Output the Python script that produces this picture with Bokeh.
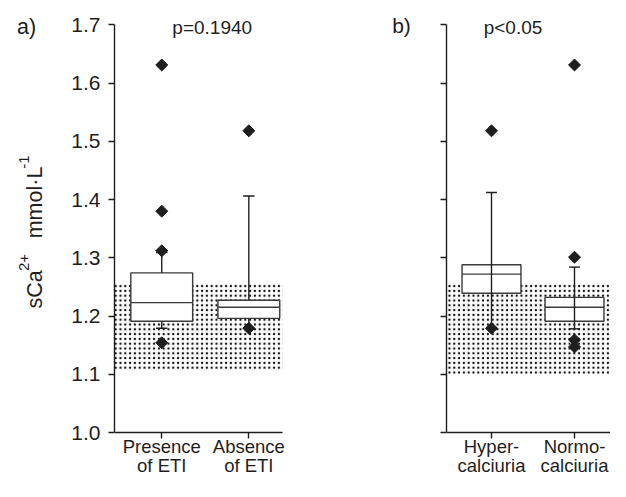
from bokeh.plotting import figure
from bokeh.layouts import row
from bokeh.models import (Range1d, FixedTicker, Label, CustomJSTickFormatter,
                          PrintfTickFormatter)
from bokeh.core.properties import value
from bokeh.embed import file_html
from bokeh.resources import INLINE
import numpy as np

FONT = "Liberation Sans"
INK = "#1e1e1e"

# ---------------- data ----------------
y_ticks = [1.0, 1.1, 1.2, 1.3, 1.4, 1.5, 1.6, 1.7]

# panel a)
a_categories = ["Presence\nof ETI", "Absence\nof ETI"]
a_q1 = [1.191, 1.196]
a_median = [1.223, 1.215]
a_q3 = [1.274, 1.227]
a_whisk_lo = [1.179, 1.179]
a_whisk_hi = [1.309, 1.406]
a_out_group = [0, 0, 0, 0, 1, 1]
a_out_value = [1.631, 1.380, 1.312, 1.154, 1.518, 1.179]
a_normal = [1.107, 1.256]
a_p_text = "p=0.1940"

# panel b)
b_categories = ["Hyper-\ncalciuria", "Normo-\ncalciuria"]
b_q1 = [1.239, 1.191]
b_median = [1.272, 1.215]
b_q3 = [1.288, 1.232]
b_whisk_lo = [1.179, 1.178]
b_whisk_hi = [1.412, 1.284]
b_out_group = [0, 0, 1, 1, 1, 1]
b_out_value = [1.518, 1.179, 1.631, 1.301, 1.159, 1.147]
b_normal = [1.100, 1.256]
b_p_text = "p<0.05"

# y-axis title pieces: (text, is_superscript)
y_label_parts = [("sCa", False), ("2+", True), ("mmol\u00b7L", False), ("-1", True)]

# ---------------- layout ----------------
BOX_W = 0.71
CAP_W = 0.13
H = 481
PX_TOP = 24.3          # pixel row of 1.7
PX_ONE = 432.0         # pixel row of 1.0
SCALE = (PX_ONE - PX_TOP) / 0.7
Y_TOP = 1.7 + PX_TOP / SCALE
Y_BOT = 1.0 - (H - PX_ONE) / SCALE
LINE1_Y = 1.0 - 13.5 / SCALE
LINE2_Y = 1.0 - 32.5 / SCALE


def make_panel(width, border_left, x_start, x_end, axis_end, categories,
               q1, med, q3, lo, hi, out_g, out_v, normal, whisk_through,
               show_labels):
    p = figure(width=width, height=H, output_backend="svg", toolbar_location=None,
               x_range=Range1d(x_start, x_end), y_range=Range1d(Y_BOT, Y_TOP),
               min_border_left=border_left, min_border_right=0,
               min_border_top=0, min_border_bottom=0)
    p.outline_line_color = None
    p.xgrid.visible = False
    p.ygrid.visible = False
    p.background_fill_color = "white"
    p.border_fill_color = "white"

    pos = [i + 1 for i in range(len(categories))]

    # normal range shading
    p.quad(left=[x_start], right=[axis_end], bottom=[normal[0]], top=[normal[1]],
           fill_color=None, line_color=None, hatch_pattern="dot",
           hatch_color="#111111", hatch_scale=4.8, hatch_weight=2)

    def whiskers():
        p.segment(x0=pos, x1=pos, y0=lo, y1=hi, line_color=INK, line_width=1.4)
        cx0 = [x - CAP_W / 2 for x in pos]
        cx1 = [x + CAP_W / 2 for x in pos]
        p.segment(x0=cx0, x1=cx1, y0=hi, y1=hi, line_color=INK, line_width=1.4)
        p.segment(x0=cx0, x1=cx1, y0=lo, y1=lo, line_color=INK, line_width=1.4)

    if not whisk_through:
        whiskers()
    p.vbar(x=pos, width=BOX_W, bottom=q1, top=q3, fill_color="white",
           line_color="#3a3a3a", line_width=1.4)
    mx0 = [x - BOX_W / 2 for x in pos]
    mx1 = [x + BOX_W / 2 for x in pos]
    p.segment(x0=mx0, x1=mx1, y0=med, y1=med, line_color="#3a3a3a", line_width=1.4)
    if whisk_through:
        whiskers()

    ox = [pos[g] for g in out_g]
    p.scatter(x=ox, y=out_v, marker="square", angle=np.pi / 4, size=8.5,
              fill_color=INK, line_color=INK)

    # axes
    for ax in (p.xaxis[0], p.yaxis[0]):
        ax.axis_line_color = INK
        ax.axis_line_width = 1.4
        ax.major_tick_line_color = INK
        ax.major_tick_line_width = 1.4
        ax.major_tick_in = 0
        ax.major_tick_out = 6
        ax.minor_tick_line_color = None
        ax.major_label_text_font = FONT
        ax.major_label_text_color = INK

    # x axis drawn at y = 1.0; its category names are written just below it
    p.xaxis.fixed_location = 1.0
    p.xaxis.bounds = (x_start, axis_end)
    p.xaxis.ticker = FixedTicker(ticks=pos)
    p.xaxis.formatter = CustomJSTickFormatter(code="return ''")
    line1 = [c.split("\n")[0] for c in categories]
    line2 = [c.split("\n")[1] for c in categories]
    for txt, yy in ((line1, LINE1_Y), (line2, LINE2_Y)):
        p.text(x=pos, y=[yy] * len(pos), text=txt, text_font=value(FONT),
               text_font_size="18.5px", text_align="center",
               text_baseline="alphabetic", text_color=INK)

    p.yaxis.bounds = (1.0, 1.7)
    p.yaxis.ticker = FixedTicker(ticks=y_ticks)
    p.yaxis.major_label_text_font_size = "21px"
    p.yaxis.major_label_standoff = 8
    if show_labels:
        p.yaxis.formatter = PrintfTickFormatter(format="%.1f")
    else:
        p.yaxis.formatter = CustomJSTickFormatter(code="return ''")
    return p


# left strip with the panel letter and the y-axis title (pixel-like coordinates)
p0 = figure(width=60, height=H, output_backend="svg", toolbar_location=None,
            x_range=Range1d(0, 60), y_range=Range1d(H, 0),
            x_axis_location=None, y_axis_location=None,
            min_border_left=0, min_border_right=0, min_border_top=0, min_border_bottom=0)
p0.outline_line_color = None
p0.xgrid.visible = False
p0.ygrid.visible = False
p0.background_fill_color = "white"
p0.border_fill_color = "white"
p0.add_layout(Label(x=26, y=26, text="a)", text_font=FONT, text_font_size="21.5px",
                    text_align="center", text_baseline="middle", text_color=INK))

# rotated title built from its pieces, reading bottom-to-top
title_centres = [(34.3, 289.0), (23.6, 262.0), (34.3, 202.0), (23.6, 161.5)]
for (txt, sup), (cx, cy) in zip(y_label_parts, title_centres):
    p0.add_layout(Label(x=cx, y=cy, text=txt, text_font=FONT,
                        text_font_size="15px" if sup else "21.5px", angle=np.pi / 2,
                        text_align="center", text_baseline="middle", text_color=INK))

# panel a) -- its frame also hosts the "b)" letter
p1 = make_panel(377, 54, 0.4575, 4.1667, 2.385, a_categories, a_q1, a_median, a_q3,
                a_whisk_lo, a_whisk_hi, a_out_group, a_out_value, a_normal,
                False, True)
p1.add_layout(Label(x=1.58, y=1.696, text=a_p_text, text_font=FONT, text_font_size="19px",
                    text_align="center", text_baseline="middle", text_color=INK))
p1.add_layout(Label(x=3.753, y=1.6985, text="b)", text_font=FONT, text_font_size="21px",
                    text_align="center", text_baseline="middle", text_color=INK))

# panel b)
p2 = make_panel(173, 9, 0.4578, 2.4337, 2.4337, b_categories, b_q1, b_median, b_q3,
                b_whisk_lo, b_whisk_hi, b_out_group, b_out_value, b_normal,
                True, False)
p2.add_layout(Label(x=1.259, y=1.696, text=b_p_text, text_font=FONT, text_font_size="19px",
                    text_align="center", text_baseline="middle", text_color=INK))

layout = row(p0, p1, p2)
open("out.html", "w").write(file_html(layout, INLINE))
